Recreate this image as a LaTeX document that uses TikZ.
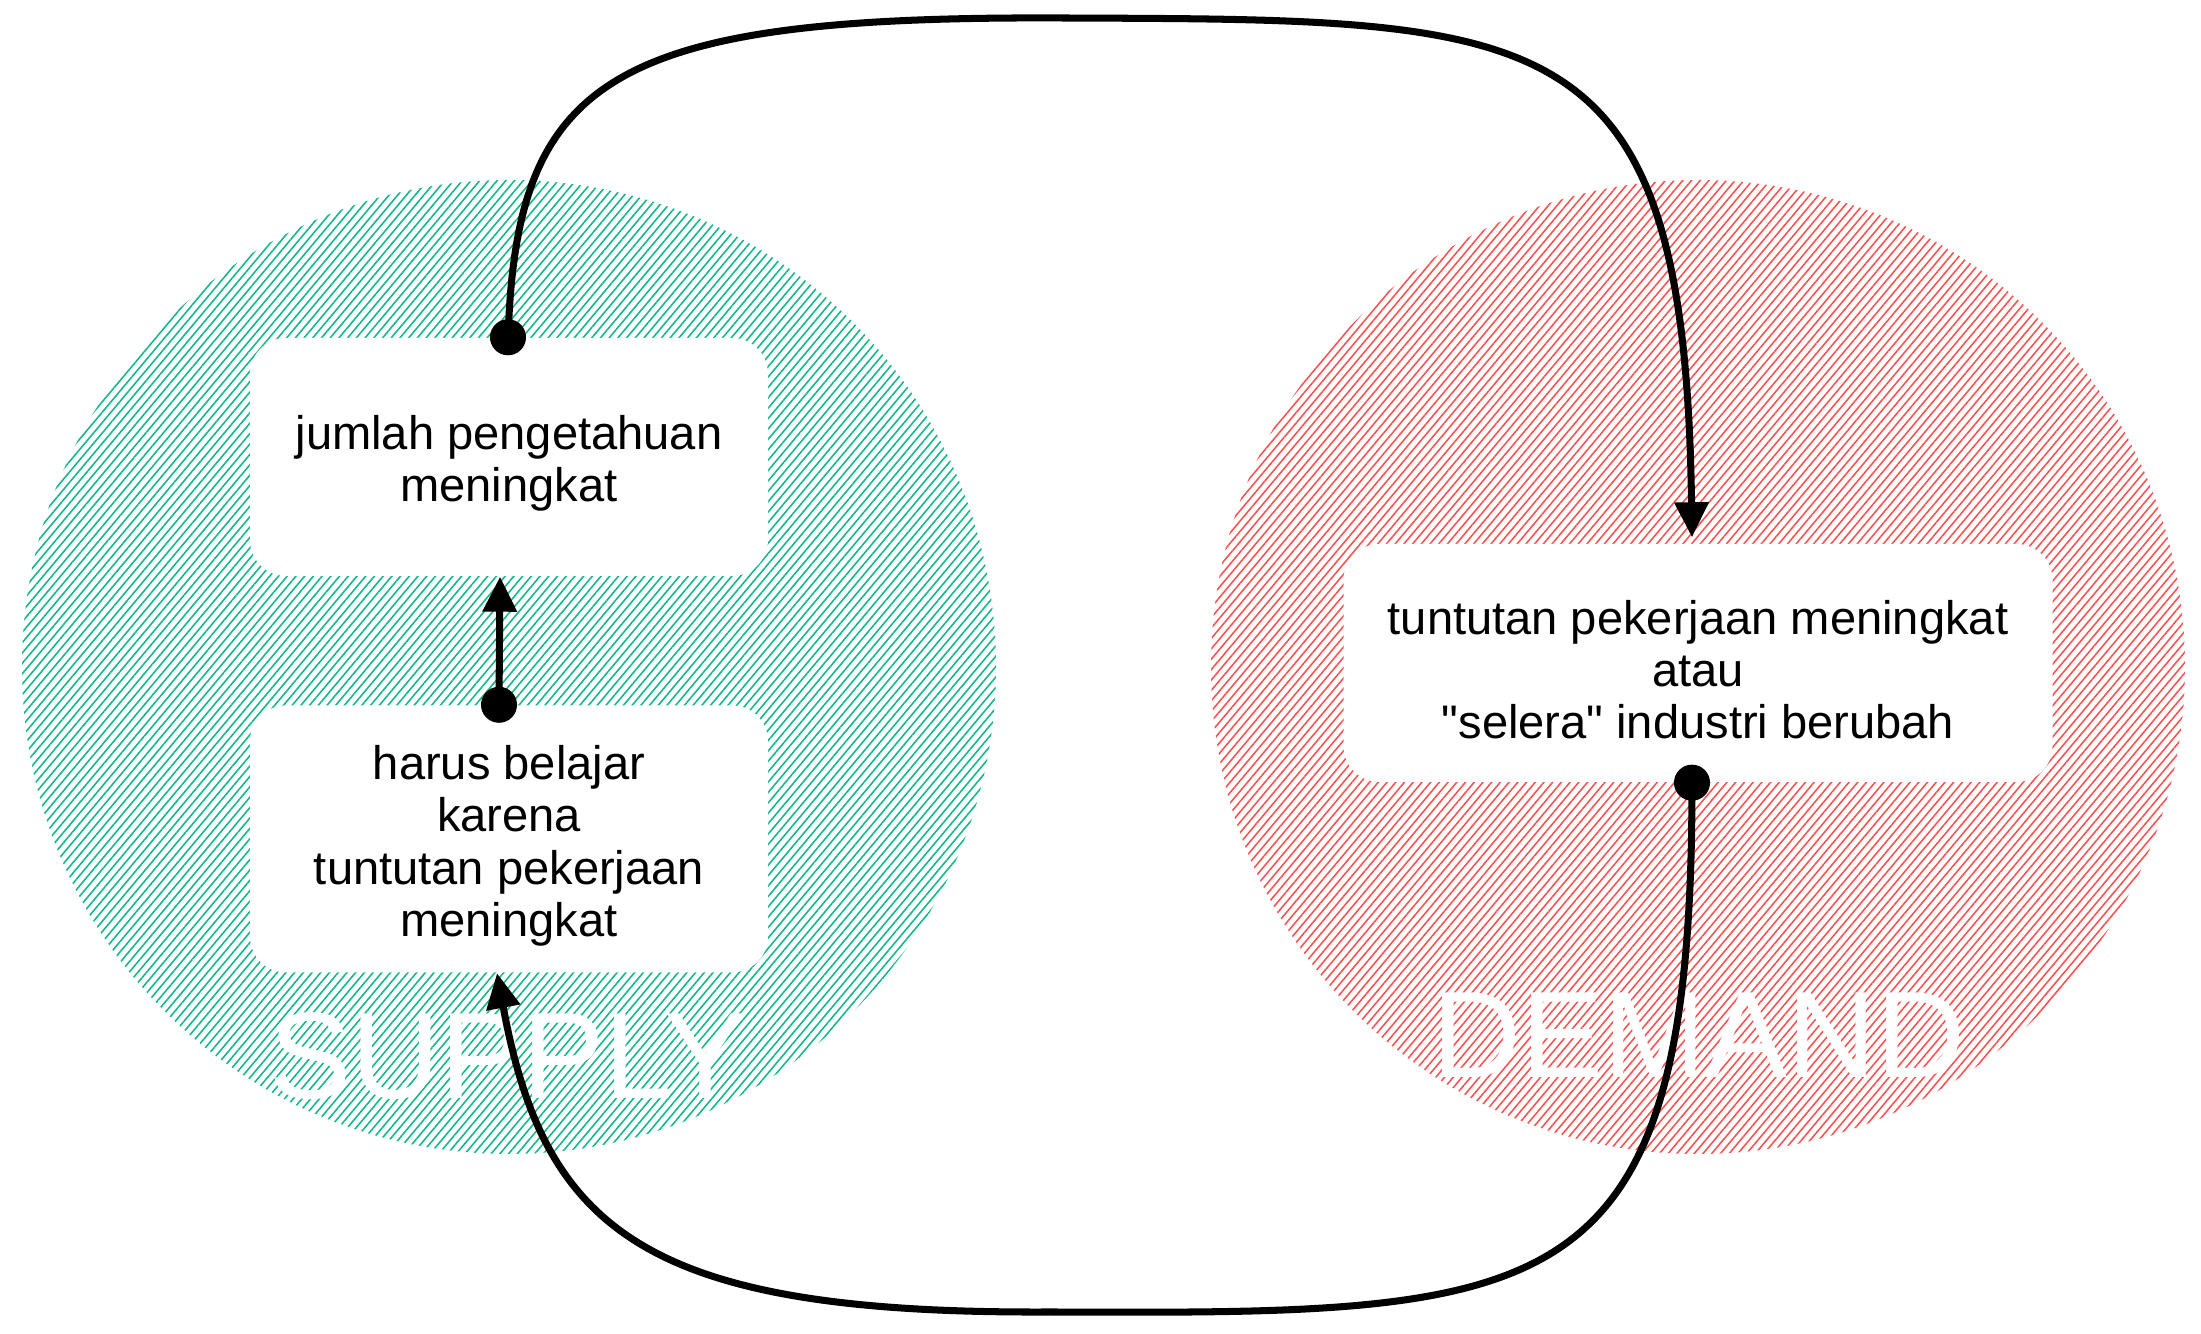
\documentclass[tikz,border=0pt]{standalone}
\usepackage{fontspec}
\setmainfont{Liberation Sans}[Ligatures=TeXOff]
\usetikzlibrary{arrows.meta, positioning, patterns.meta}
\definecolor{HatchGreen}{HTML}{12B886}
\definecolor{HatchRed}{HTML}{FA5252}
\newcommand{\cardlift}{\rule{0pt}{13.6pt}}
\tikzset{
  zone/.style={circle, minimum size=9.74cm, inner sep=0pt},
  greenzone/.style={zone, pattern={Lines[angle=50, distance=1.9pt, line width=0.45pt]}, pattern color=HatchGreen},
  redzone/.style={zone, pattern={Lines[angle=50, distance=1.9pt, line width=0.45pt]}, pattern color=HatchRed},
  zonelabel/.style={text=white, inner sep=0pt, font=\fontsize{35}{40}\selectfont},
  card/.style={fill=white, rounded corners=0.36cm, align=center, inner sep=0pt, minimum width=5.18cm, minimum height=2.38cm, font=\fontsize{13.4}{14.8}\selectfont},
  flow/.style={{Circle[length=3.6mm]}-{Triangle[length=3.5mm, width=3.3mm]}, line width=2pt, shorten <=-1.8mm}
}

\begin{document}
\begin{tikzpicture}
\useasboundingbox (0,0) rectangle (22.01,13.34);
% the two hatched regions
\node[greenzone] (supply) at (5.09,6.67) {};
\node[redzone] (demand) at (16.98,6.67) {};
\node[zonelabel] (supplytxt) at (5.08,2.78) {SUPPLY};
\node[zonelabel] (demandtxt) at (16.99,2.99) {DEMAND};
% boxes
\node[card] (know) at (5.09,8.77) {\cardlift jumlah pengetahuan\\meningkat};
\node[card, minimum height=2.67cm] (learn) at (5.09,4.95) {\cardlift harus belajar\\karena\\tuntutan pekerjaan\\meningkat};
\node[card, minimum width=7.09cm] (need) at (16.98,6.71) {\cardlift tuntutan pekerjaan meningkat\\atau\\"selera" industri berubah};
% connectors
\draw[flow] ([xshift=-0.1cm]learn.north) -- ([xshift=-0.09cm]know.south);
\draw[flow] ([xshift=-0.01cm]know.north) .. controls (5.2,12.6) and (6.2,13.18) .. (10.6,13.16)
  .. controls (15.5,13.14) and (16.85,13.2) .. ([xshift=-0.06cm, yshift=0.06cm]need.north);
\draw[flow] ([xshift=-0.06cm]need.south) .. controls (16.9,0.2) and (15.5,0.2) .. (10.5,0.22)
  .. controls (6.5,0.2) and (5.45,1.0) .. ([xshift=-0.12cm]learn.south);
\end{tikzpicture}
\end{document}
